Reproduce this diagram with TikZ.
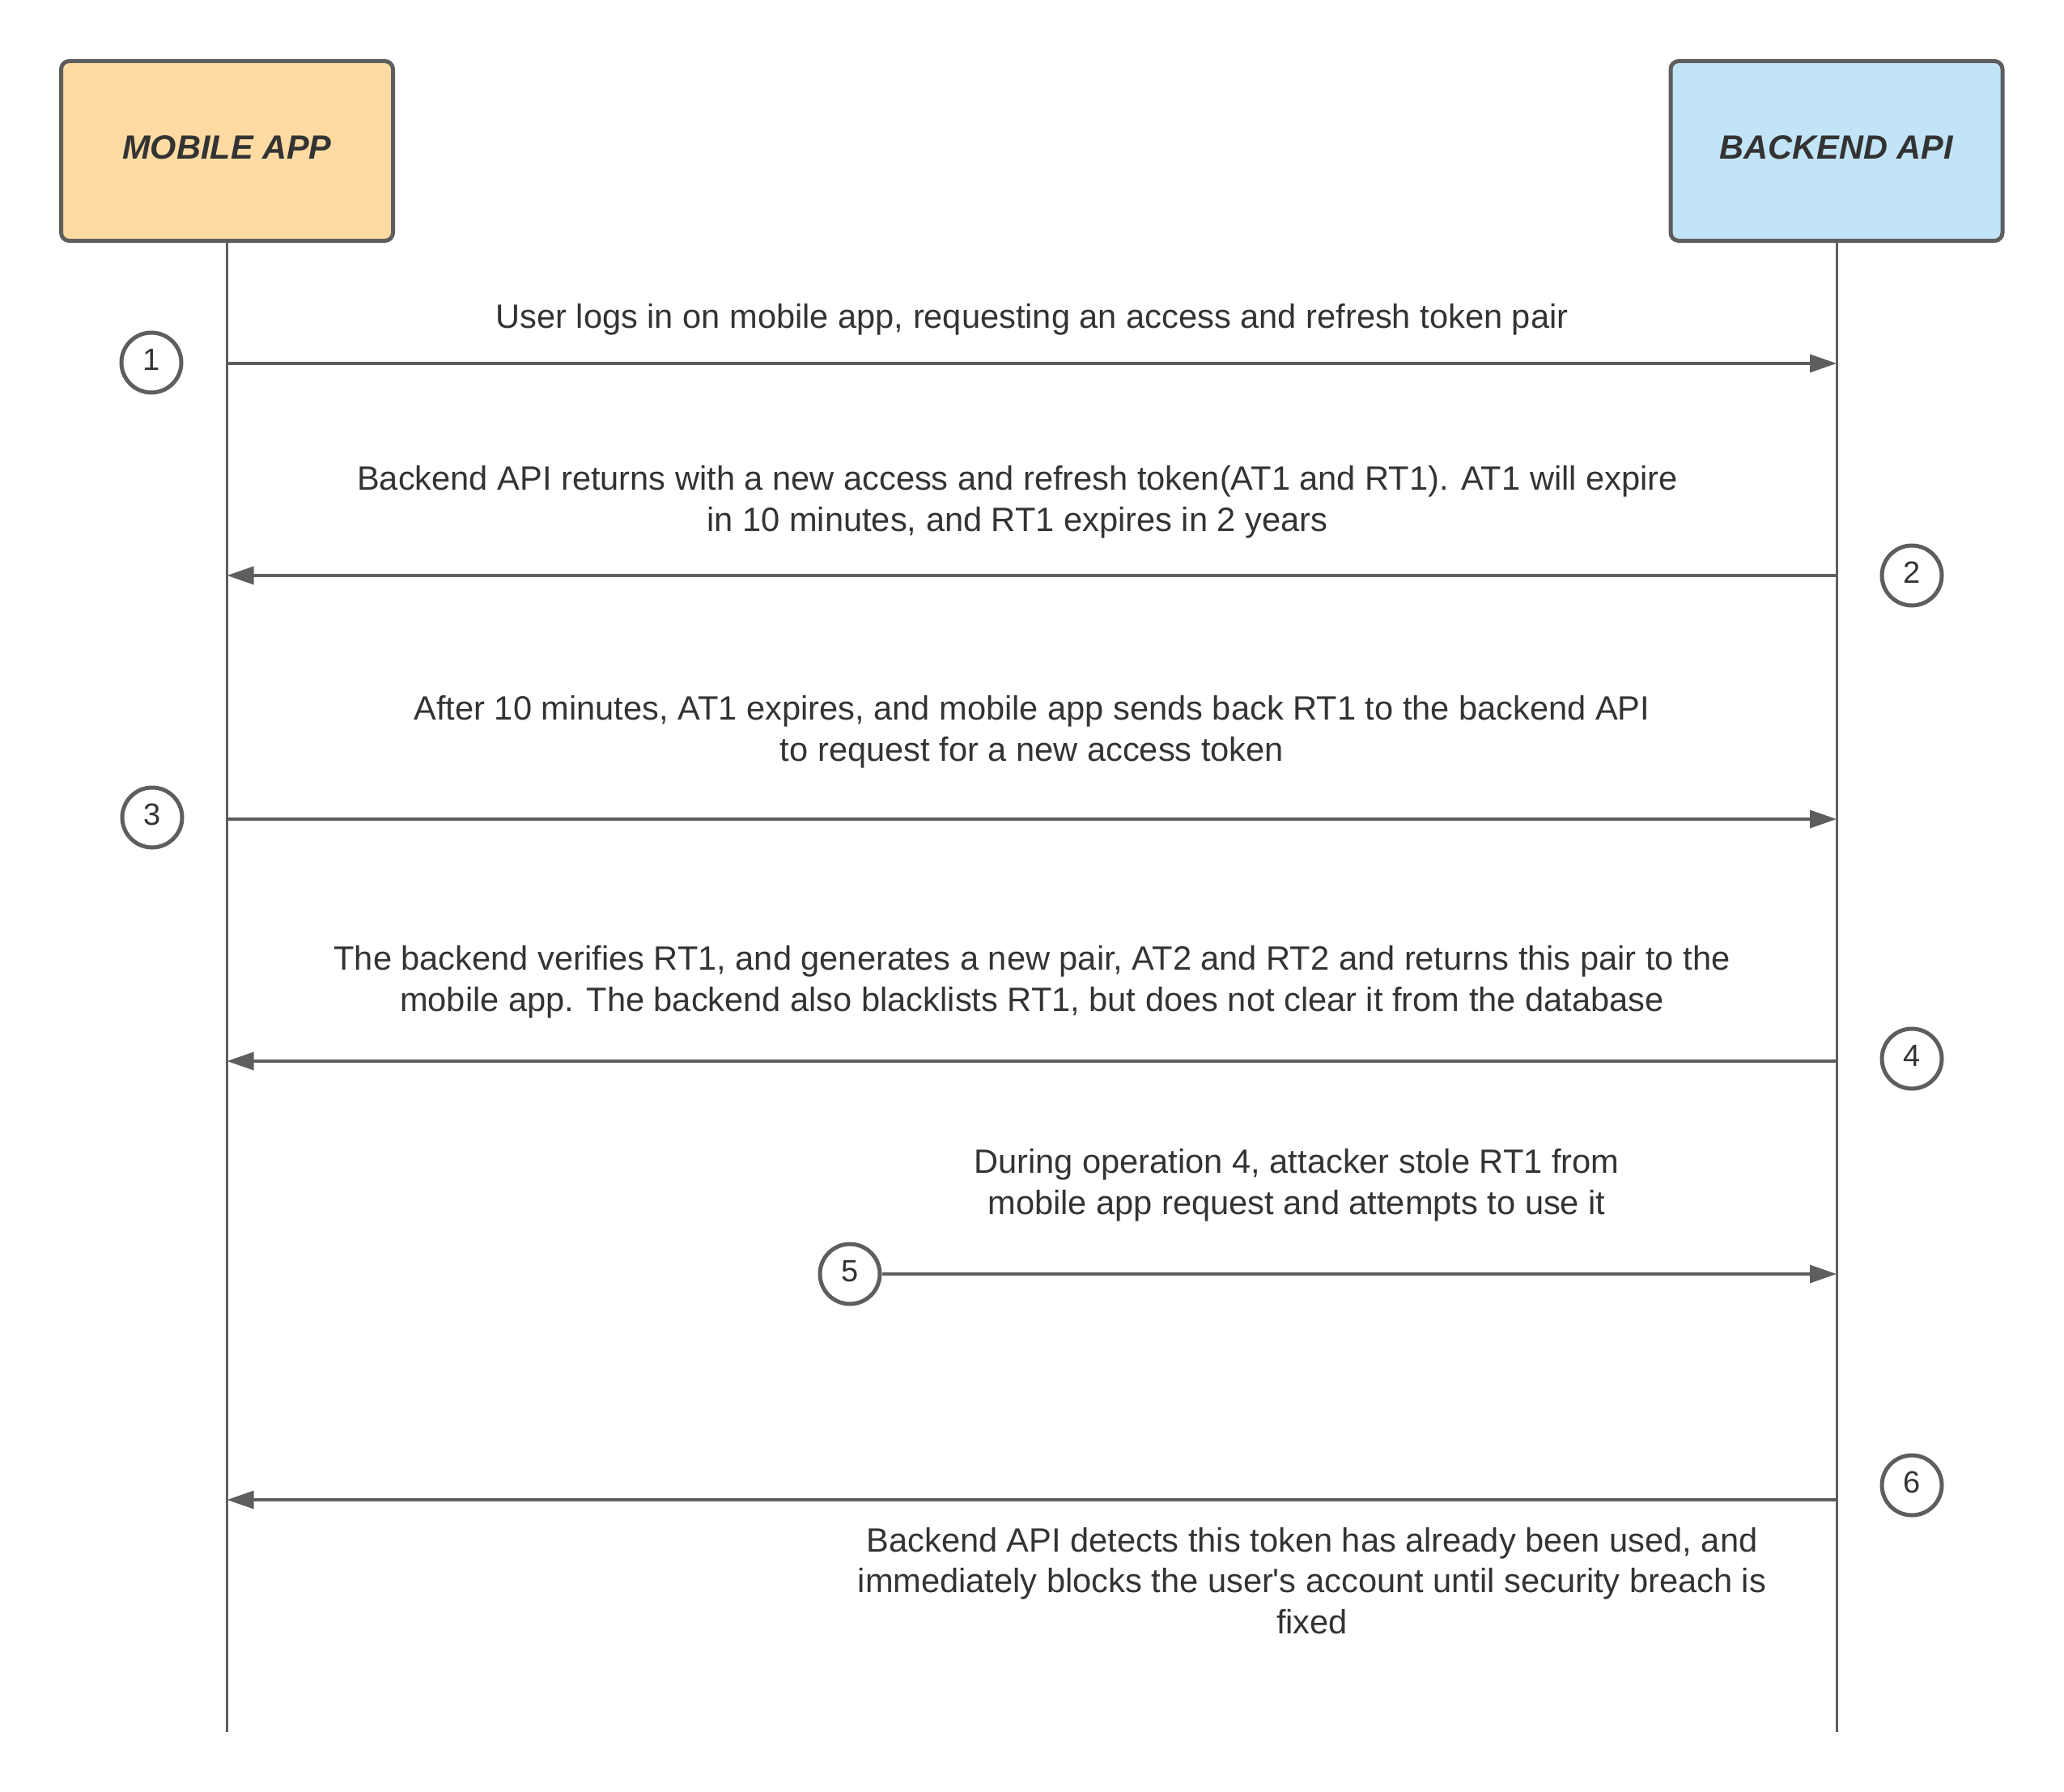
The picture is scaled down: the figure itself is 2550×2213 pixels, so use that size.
\documentclass[tikz,border=0pt]{standalone}
\usepackage{fontspec}
\setmainfont{Liberation Sans}
\usetikzlibrary{arrows.meta}
\definecolor{lineg}{HTML}{5E5E5E}
\definecolor{txt}{HTML}{333333}
\definecolor{orangefill}{HTML}{FFDBA3}
\definecolor{bluefill}{HTML}{C1E4F7}
\begin{document}
\begin{tikzpicture}[x=1pt,y=-1pt,
  actor/.style={draw=lineg,line width=5pt,rounded corners=10pt,minimum width=410pt,minimum height=222pt,inner sep=0pt},
  title/.style={text=txt,font=\fontsize{41.5}{50}\selectfont\bfseries\itshape,anchor=base},
  life/.style={draw=lineg,line width=3pt},
  msg/.style={draw=lineg,line width=3.2pt,-{Triangle[length=33pt,width=22pt]}},
  num/.style={circle,draw=lineg,line width=5pt,minimum size=74pt,inner sep=0pt},
  numtxt/.style={text=txt,font=\fontsize{38}{46}\selectfont,anchor=base},
  lbl/.style={text=txt,font=\fontsize{41.6}{50.5}\selectfont,align=center,anchor=base,inner sep=0pt}
]
\useasboundingbox (0,0) rectangle (2550,2213);
% actors
\node[actor,fill=orangefill] (mob) at (280.5,186.5) {};
\node[actor,fill=bluefill] (api) at (2269,186.5) {};
\node[title] (mobt) at (280.5,196) {MOBILE APP};
\node[title] (apit) at (2269,196) {BACKEND API};
% lifelines
\coordinate (mobend) at (mob.south |- 0,2140);
\coordinate (apiend) at (api.south |- 0,2140);
\draw[life] (mob.south) -- (mobend);
\draw[life] (api.south) -- (apiend);
% message anchors
\foreach \n/\y in {1/449,2/711,3/1012,4/1311,5/1574,6/1853}{
  \coordinate (m\n) at (mob.south |- 0,\y);
  \coordinate (a\n) at (api.south |- 0,\y);
}
% number circles
\node[num] (c1) at (187,448) {};
\node[num] (c2) at (2362,711) {};
\node[num] (c3) at (188,1010) {};
\node[num] (c4) at (2362,1308) {};
\node[num] (c5) at (1050,1574) {};
\node[num] (c6) at (2362,1835) {};
\node[numtxt] (n1) at (c1.center) [yshift=-9pt] {1};
\node[numtxt] (n2) at (c2.center) [yshift=-9pt] {2};
\node[numtxt] (n3) at (c3.center) [yshift=-9pt] {3};
\node[numtxt] (n4) at (c4.center) [yshift=-9pt] {4};
\node[numtxt] (n5) at (c5.center) [yshift=-9pt] {5};
\node[numtxt] (n6) at (c6.center) [yshift=-9pt] {6};
% messages
\draw[msg] (m1) -- (a1);
\draw[msg] (a2) -- (m2);
\draw[msg] (m3) -- (a3);
\draw[msg] (a4) -- (m4);
\draw[msg] (c5) -- (a5);
\draw[msg] (a6) -- (m6);
% labels (base = baseline of last line)
\node[lbl] (t1) at (1275,405) {User logs in on mobile app, requesting an access and refresh token pair};
\node[lbl] (t2) at (1257,656) {Backend API returns with a new access and refresh token(AT1 and RT1). AT1 will expire\\in 10 minutes, and RT1 expires in 2 years};
\node[lbl] (t3) at (1275,940) {After 10 minutes, AT1 expires, and mobile app sends back RT1 to the backend API\\to request for a new access token};
\node[lbl] (t4) at (1275,1249) {The backend verifies RT1, and generates a new pair, AT2 and RT2 and returns this pair to the\\mobile app. The backend also blacklists RT1, but does not clear it from the database};
\node[lbl] (t5) at (1602,1500) {During operation 4, attacker stole RT1 from\\mobile app request and attempts to use it};
\node[lbl] (t6) at (1621,2018) {Backend API detects this token has already been used, and\\immediately blocks the user\textquotesingle s account until security breach is\\fixed};
\end{tikzpicture}
\end{document}
